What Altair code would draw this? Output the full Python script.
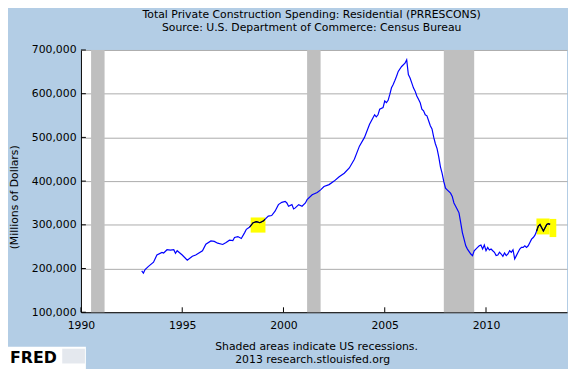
import altair as alt
import pandas as pd

# ---- data (millions of dollars) ----
months = [
    "1993-01", "1993-02", "1993-03", "1993-05", "1993-08", "1993-10", "1994-01", "1994-02",
    "1994-04", "1994-06", "1994-08", "1994-09", "1994-10", "1995-01", "1995-04", "1995-07",
    "1995-09", "1996-01", "1996-03", "1996-06", "1996-08", "1996-10", "1997-01", "1997-03",
    "1997-05", "1997-07", "1997-08", "1997-10", "1997-12", "1998-02", "1998-03", "1998-05",
    "1998-07", "1998-09", "1998-11", "1999-01", "1999-02", "1999-04", "1999-06", "1999-08",
    "1999-10", "1999-12", "2000-02", "2000-03", "2000-04", "2000-06", "2000-07", "2000-08",
    "2000-10", "2000-12", "2001-02", "2001-03", "2001-06", "2001-09", "2001-11", "2002-01",
    "2002-04", "2002-07", "2002-10", "2003-01", "2003-04", "2003-07", "2003-10", "2004-01",
    "2004-04", "2004-07", "2004-08", "2004-09", "2004-10", "2004-12", "2005-01", "2005-02",
    "2005-03", "2005-04", "2005-05", "2005-06", "2005-07", "2005-08", "2005-09", "2005-11",
    "2006-01", "2006-02", "2006-03", "2006-04", "2006-05", "2006-06", "2006-07", "2006-08",
    "2006-09", "2006-10", "2006-11", "2006-12", "2007-01", "2007-02", "2007-03", "2007-04",
    "2007-05", "2007-06", "2007-07", "2007-08", "2007-09", "2007-10", "2007-11", "2007-12",
    "2008-01", "2008-02", "2008-04", "2008-05", "2008-06", "2008-07", "2008-08", "2008-09",
    "2008-10", "2008-11", "2008-12", "2009-01", "2009-02", "2009-04", "2009-05", "2009-06",
    "2009-08", "2009-09", "2009-10", "2009-11", "2009-12", "2010-01", "2010-02", "2010-03",
    "2010-04", "2010-05", "2010-06", "2010-07", "2010-08", "2010-09", "2010-10", "2010-11",
    "2010-12", "2011-01", "2011-02", "2011-03", "2011-04", "2011-05", "2011-06", "2011-07",
    "2011-08", "2011-09", "2011-10", "2011-11", "2011-12", "2012-01", "2012-02", "2012-03",
    "2012-04", "2012-05", "2012-06", "2012-07", "2012-08", "2012-09", "2012-10", "2012-11",
    "2012-12", "2013-01", "2013-02", "2013-03",
]
spending = [
    194800, 189600, 197800, 205000, 214500, 231000, 237000, 235500,
    243000, 242000, 243000, 234800, 240700, 231000, 219000, 228000,
    231000, 240700, 255800, 263000, 262000, 258000, 255000, 259600,
    264900, 264100, 270900, 273100, 268600, 282200, 289700, 295000,
    304800, 307100, 304800, 308500, 312300, 319800, 321300, 331100,
    346200, 351400, 353700, 350000, 342400, 346200, 336400, 338700,
    346200, 342400, 350000, 357500, 368700, 374000, 380000, 387500,
    392000, 400000, 410000, 418000, 430000, 450000, 480000, 500000,
    530000, 551700, 547200, 551700, 564500, 568300, 583300, 579500,
    584900, 598400, 613400, 620900, 630000, 639800, 651000, 662300,
    669800, 677400, 643600, 636000, 624700, 613400, 605900, 594600,
    587100, 579500, 564500, 560700, 551700, 549400, 538100, 526800,
    519400, 500500, 485500, 474200, 455300, 432700, 417600, 398800,
    383800, 380000, 372500, 365000, 349900, 342400, 334900, 327400,
    305000, 282200, 267100, 252000, 244500, 233200, 229500, 240700,
    248400, 252000, 253600, 244500, 253600, 240700, 248400, 242300,
    244500, 240700, 237100, 229500, 231000, 237100, 233200, 228000,
    235500, 229500, 233200, 240700, 237100, 243000, 222000, 229500,
    237100, 244500, 248400, 248400, 252000, 248400, 252000, 259600,
    267100, 271000, 276200, 285900, 297200, 301000, 293500, 285900,
    293500, 301000, 302500, 301000,
]
rec_start = ["1990-07", "2001-03", "2007-12"]
rec_end = ["1991-03", "2001-11", "2009-06"]
hl_x1 = [1998.38, 2012.49, 2013.14]
hl_x2 = [1999.11, 2013.14, 2013.47]
hl_y1 = [282200, 278000, 272000]
hl_y2 = [316800, 314500, 313500]
black_from = [1998.30, 2012.45]
black_to = [1999.10, 2013.50]
y_ticks = [100000, 200000, 300000, 400000, 500000, 600000, 700000]
x_ticks = [1990, 1995, 2000, 2005, 2010]

title1 = "Total Private Construction Spending: Residential (PRRESCONS)"
title2 = "Source: U.S. Department of Commerce: Census Bureau"
foot1 = "Shaded areas indicate US recessions."
foot2 = "2013 research.stlouisfed.org"
ytitle = "(Millions of Dollars)"


def frac(ym):
    y, m = ym.split("-")
    return int(y) + (int(m) - 1) / 12.0


W, H = 493, 266
FONT = "DejaVu Sans"

df = pd.DataFrame({"year": [frac(m) for m in months], "value": spending})
rec = pd.DataFrame({"s": [frac(m) for m in rec_start], "e": [frac(m) for m in rec_end]})
hl = pd.DataFrame({"x1": hl_x1, "x2": hl_x2, "y1": hl_y1, "y2": hl_y2})
black_df = pd.concat(
    [df[(df.year >= a) & (df.year <= b)].assign(seg=i) for i, (a, b) in enumerate(zip(black_from, black_to))]
)
xt = pd.DataFrame({"x": x_ticks})
yt = pd.DataFrame({"y": y_ticks})

xscale = alt.Scale(domain=[1990, 2014], nice=False, zero=False)
yscale = alt.Scale(domain=[100000, 700000], nice=False, zero=False)

xaxis = alt.Axis(values=x_ticks, format="d", grid=False, ticks=False, tickSize=0,
                 labelPadding=8, labelFlush=False, labelFont=FONT, labelFontSize=11,
                 labelColor="#000000", domainColor="#000000", domainWidth=1, title=None)
yaxis = alt.Axis(values=y_ticks, format=",d", grid=True, gridColor="#ABABAB", gridWidth=1,
                 ticks=False, tickSize=0, labelPadding=5, labelFont=FONT, labelFontSize=11,
                 labelColor="#000000", domainColor="#000000", domainWidth=1, labelOverlap=False,
                 title=ytitle, titleFont=FONT, titleFontSize=11, titleFontWeight="normal",
                 titleColor="#000000", titleX=-67, titleY=149, titleAngle=270,
                 titleAlign="center", titleBaseline="middle")

bands = alt.Chart(rec).mark_rect(color="#BFBFBF").encode(
    x=alt.X("s:Q", scale=xscale, axis=xaxis), x2="e:Q"
)
highlights = alt.Chart(hl).mark_rect(color="#FFFF00").encode(
    x=alt.X("x1:Q", scale=xscale), x2="x2:Q",
    y=alt.Y("y1:Q", scale=yscale, axis=yaxis), y2="y2:Q"
)
line = alt.Chart(df).mark_line(color="#0000FF", strokeWidth=1.2).encode(
    x=alt.X("year:Q", scale=xscale), y=alt.Y("value:Q", scale=yscale)
)
black = alt.Chart(black_df).mark_line(color="#000000", strokeWidth=1.2).encode(
    x=alt.X("year:Q", scale=xscale), y=alt.Y("value:Q", scale=yscale), detail="seg:N"
)
xtick_marks = alt.Chart(xt).mark_rule(color="#000000", strokeWidth=1).encode(
    x=alt.X("x:Q", scale=xscale), y=alt.value(H), y2=alt.value(H - 5)
)
ytick_marks = alt.Chart(yt).mark_rule(color="#000000", strokeWidth=1).encode(
    y=alt.Y("y:Q", scale=yscale), x=alt.value(0), x2=alt.value(5)
)


def label(text, x, y, size=11, align="center", baseline="alphabetic", weight="normal", color="#000000", font=FONT):
    return alt.Chart(pd.DataFrame({"t": [text]})).mark_text(
        font=font, fontSize=size, align=align, baseline=baseline, fontWeight=weight, color=color
    ).encode(text="t:N", x=alt.value(x), y=alt.value(y))


t1 = label(title1, 234, -32)
t2 = label(title2, 234, -19)
f1 = label(foot1, 239, 304)
f2 = label(foot2, 235, 317)
logo_bg = alt.Chart(pd.DataFrame({"t": [""]})).mark_rect(color="#FFFFFF").encode(
    x=alt.value(-79), x2=alt.value(5), y=alt.value(301), y2=alt.value(330)
)
logo_icon = alt.Chart(pd.DataFrame({"t": [""]})).mark_rect(color="#E4E8EE").encode(
    x=alt.value(-19), x2=alt.value(4), y=alt.value(303), y2=alt.value(318)
)
logo = label("FRED", -72, 317, size=16, align="left", weight="bold", font="DejaVu Sans")

chart = alt.layer(
    bands, highlights, line, black, xtick_marks, ytick_marks,
    t1, t2, f1, f2, logo_bg, logo_icon, logo
).properties(
    width=W, height=H,
    autosize=alt.AutoSizeParams(type="none"),
    padding={"left": 74, "top": 40, "right": 1, "bottom": 55},
    background="#B3CDE5",
).configure_view(fill="#FFFFFF", stroke=None)

chart.save("out.html", embed_options={"renderer": "svg", "actions": False})
